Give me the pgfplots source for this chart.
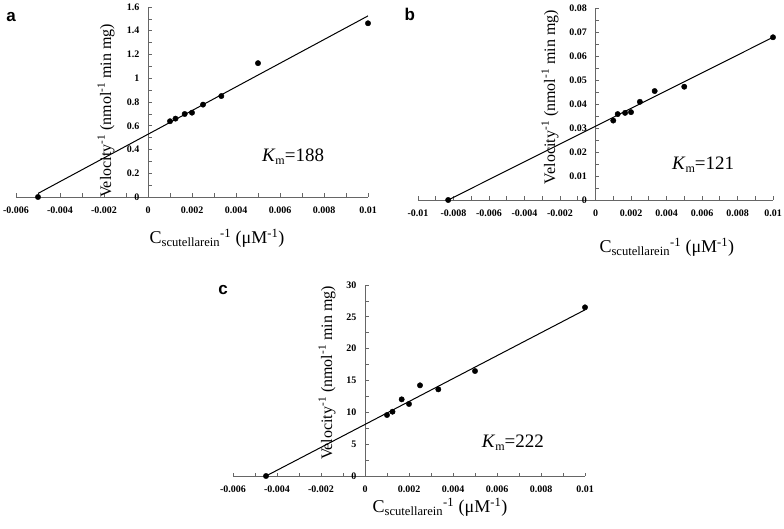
\documentclass[border=0pt]{standalone}
\usepackage{fontspec}
\setmainfont{Liberation Serif}
\newfontfamily\panelfont{Liberation Sans}
\usepackage{pgfplots}
\pgfplotsset{compat=1.18}

\pgfplotsset{
  kplot/.style={
    scale only axis,
    axis x line=bottom,
    axis y line=middle,
    axis line style={draw=black!60, line width=0.8pt, -},
    tick style={draw=black!60, line width=0.7pt},
    tick align=inside,
    major tick length=3.5pt, minor tick length=3.5pt,
    minor x tick num=1, minor y tick num=1,
    hide obscured x ticks=false, hide obscured y ticks=false,
    scaled ticks=false,
    ticklabel style={font=\fontsize{10}{11}\selectfont\bfseries},
    xticklabel style={yshift=-6pt},
    yticklabel style={xshift=-5pt},
    /pgf/number format/assume math mode=true,
    clip=false,
  },
  dots/.style={black, only marks, mark=*, mark size=2.7pt, mark options={fill=black, draw=black}},
  fitline/.style={black, no marks, line width=1pt},
}
\tikzset{
  ylab/.style={font=\fontsize{16}{18}\selectfont, rotate=90, inner sep=0pt},
  xlab/.style={font=\fontsize{18}{20}\selectfont, inner sep=0pt},
  kmlab/.style={font=\fontsize{19}{21}\selectfont, inner sep=0pt},
  plab/.style={font=\fontsize{17}{19}\selectfont\panelfont\bfseries, inner sep=0pt},
}
\newcommand{\km}[1]{\textit{K}\raisebox{-0.35ex}{\fontsize{12}{13}\selectfont m}=#1}

\begin{document}
\begin{tikzpicture}
\path[use as bounding box] (0,0) rectangle (784pt,528pt);

% ---------- panel a ----------
\begin{axis}[kplot, at={(16pt,331pt)}, anchor=south west,
  width=352pt, height=190pt,
  xmin=-0.006, xmax=0.01, ymin=0, ymax=1.6,
  xtick={-0.006,-0.004,-0.002,0,0.002,0.004,0.006,0.008,0.01},
  xticklabels={-0.006,-0.004,-0.002,0,0.002,0.004,0.006,0.008,0.01},
  ytick={0,0.2,0.4,0.6,0.8,1,1.2,1.4,1.6},
  yticklabels={0,0.2,0.4,0.6,0.8,1,1.2,1.4,1.6},
]
\addplot[fitline] coordinates {(-0.005,0.03) (0.01,1.525)};
\addplot[dots] coordinates {
 (-0.005,0) (0.001,0.638) (0.00125,0.660) (0.001667,0.699) (0.002,0.710)
 (0.0025,0.778) (0.003333,0.850) (0.005,1.127) (0.01,1.463)};
\node[ylab] at (rel axis cs:0.256,0.453) {Velocity\textsuperscript{-1} (nmol\textsuperscript{-1} min mg)};
\node[xlab] at (rel axis cs:0.571,-0.216) {C\textsubscript{scutellarein}\textsuperscript{-1} (μM\textsuperscript{-1})};
\node[kmlab] at (rel axis cs:0.787,0.211) {\km{188}};
\node[plab] at (rel axis cs:-0.014,0.947) {a};
\end{axis}

% ---------- panel b ----------
\begin{axis}[kplot, at={(418pt,328pt)}, anchor=south west,
  width=355pt, height=192pt,
  xmin=-0.01, xmax=0.01, ymin=0, ymax=0.08,
  xtick={-0.01,-0.008,-0.006,-0.004,-0.002,0,0.002,0.004,0.006,0.008,0.01},
  xticklabels={-0.01,-0.008,-0.006,-0.004,-0.002,0,0.002,0.004,0.006,0.008,0.01},
  ytick={0,0.01,0.02,0.03,0.04,0.05,0.06,0.07,0.08},
  yticklabels={0,0.01,0.02,0.03,0.04,0.05,0.06,0.07,0.08},
]
\addplot[fitline] coordinates {(-0.0083,0) (0.01,0.0678)};
\addplot[dots] coordinates {
 (-0.0083,0) (0.001,0.0331) (0.00125,0.0358) (0.001667,0.0363) (0.002,0.0366)
 (0.0025,0.0409) (0.003333,0.0454) (0.005,0.0472) (0.01,0.0678)};
\node[ylab] at (rel axis cs:0.372,0.536) {Velocity\textsuperscript{-1} (nmol\textsuperscript{-1} min mg)};
\node[xlab] at (rel axis cs:0.701,-0.245) {C\textsubscript{scutellarein}\textsuperscript{-1} (μM\textsuperscript{-1})};
\node[kmlab] at (rel axis cs:0.803,0.182) {\km{121}};
\node[plab] at (rel axis cs:-0.023,0.969) {b};
\end{axis}

% ---------- panel c ----------
\begin{axis}[kplot, at={(233pt,52pt)}, anchor=south west,
  width=352pt, height=191pt,
  xmin=-0.006, xmax=0.01, ymin=0, ymax=30,
  xtick={-0.006,-0.004,-0.002,0,0.002,0.004,0.006,0.008,0.01},
  xticklabels={-0.006,-0.004,-0.002,0,0.002,0.004,0.006,0.008,0.01},
  ytick={0,5,10,15,20,25,30},
  yticklabels={0,5,10,15,20,25,30},
]
\addplot[fitline] coordinates {(-0.0045,0) (0.01,26.1)};
\addplot[dots] coordinates {
 (-0.0045,0) (0.001,9.58) (0.00125,10.1) (0.001667,12.04) (0.002,11.31)
 (0.0025,14.24) (0.003333,13.61) (0.005,16.49) (0.01,26.49)};
\node[ylab] at (rel axis cs:0.267,0.539) {Velocity\textsuperscript{-1} (nmol\textsuperscript{-1} min mg)};
\node[xlab] at (rel axis cs:0.588,-0.162) {C\textsubscript{scutellarein}\textsuperscript{-1} (μM\textsuperscript{-1})};
\node[kmlab] at (rel axis cs:0.795,0.173) {\km{222}};
\node[plab] at (rel axis cs:-0.028,0.974) {c};
\end{axis}
\end{tikzpicture}
\end{document}
